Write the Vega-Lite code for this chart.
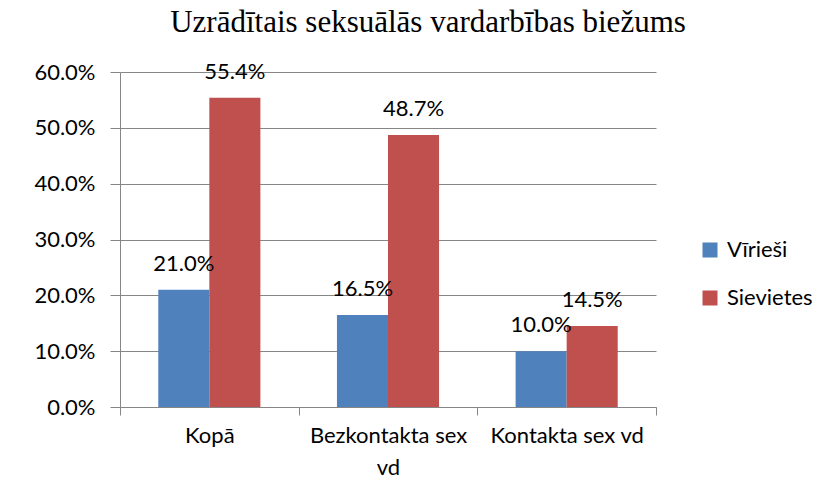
{
  "$schema": "https://vega.github.io/schema/vega-lite/v6.json",
  "width": 536,
  "height": 335,
  "autosize": {"type": "none"},
  "padding": {"left": 120, "top": 72, "right": 173, "bottom": 90},
  "background": "white",
  "title": {
    "text": "Uzrādītais seksuālās vardarbības biežums",
    "font": "Liberation Serif",
    "fontSize": 31,
    "fontWeight": "normal",
    "color": "black",
    "anchor": "middle",
    "frame": "group",
    "baseline": "alphabetic",
    "dx": 40,
    "offset": -2
  },
  "config": {
    "view": {"stroke": null},
    "font": "Lato",
    "axis": {"labelFont": "Lato", "labelColor": "black", "domainColor": "#868686", "tickColor": "#868686", "gridColor": "#868686"}
  },
  "data": {
    "values": [
      {"category": "Kopā", "gender": "Vīrieši", "value": 0.21},
      {"category": "Kopā", "gender": "Sievietes", "value": 0.554},
      {"category": "Bezkontakta sex vd", "gender": "Vīrieši", "value": 0.165},
      {"category": "Bezkontakta sex vd", "gender": "Sievietes", "value": 0.487},
      {"category": "Kontakta sex vd", "gender": "Vīrieši", "value": 0.10},
      {"category": "Kontakta sex vd", "gender": "Sievietes", "value": 0.145}
    ]
  },
  "encoding": {
    "x": {
      "field": "category",
      "type": "nominal",
      "sort": ["Kopā", "Bezkontakta sex vd", "Kontakta sex vd"],
      "scale": {"paddingInner": 0, "paddingOuter": 0},
      "axis": {
        "title": null,
        "labelAngle": 0,
        "tickBand": "extent",
        "tickSize": 8,
        "labelPadding": 10,
        "labelFontSize": 22,
        "labelLineHeight": 32,
        "labelExpr": "datum.label == 'Bezkontakta sex vd' ? ['Bezkontakta sex', 'vd'] : datum.label"
      }
    },
    "xOffset": {
      "field": "gender",
      "type": "nominal",
      "sort": ["Vīrieši", "Sievietes"],
      "scale": {"paddingOuter": 0.75, "paddingInner": 0}
    },
    "y": {
      "field": "value",
      "type": "quantitative",
      "scale": {"domain": [0, 0.6]},
      "axis": {
        "title": null,
        "values": [0, 0.1, 0.2, 0.3, 0.4, 0.5, 0.6],
        "format": ".1%",
        "grid": true,
        "tickSize": 10,
        "labelPadding": 15,
        "labelFontSize": 22
      }
    }
  },
  "layer": [
    {
      "mark": {"type": "bar"},
      "encoding": {
        "color": {
          "field": "gender",
          "type": "nominal",
          "sort": ["Vīrieši", "Sievietes"],
          "scale": {"domain": ["Vīrieši", "Sievietes"], "range": ["#4F81BD", "#C0504D"]},
          "legend": {
            "title": null,
            "orient": "none",
            "legendX": 579,
            "legendY": 167,
            "padding": 0,
            "symbolType": "square",
            "symbolSize": 225,
            "symbolStrokeWidth": 0,
            "labelFontSize": 22,
            "labelFont": "Lato",
            "labelColor": "black",
            "labelOffset": 6,
            "rowPadding": 26
          }
        }
      }
    },
    {
      "mark": {"type": "text", "baseline": "middle", "dy": -26, "fontSize": 22, "font": "Lato", "color": "black"},
      "encoding": {
        "text": {"field": "value", "type": "quantitative", "format": ".1%"}
      }
    }
  ]
}
